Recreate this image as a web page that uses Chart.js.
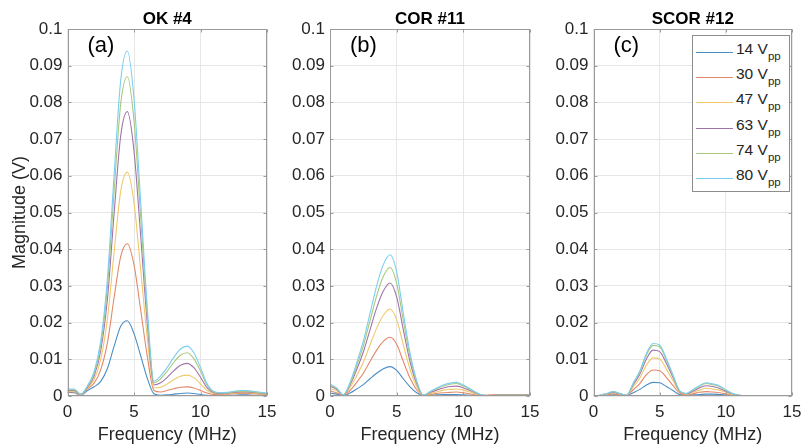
<!DOCTYPE html>
<html><head><meta charset="utf-8">
<script src="https://cdn.jsdelivr.net/npm/chart.js@4.4.1/dist/chart.umd.min.js"></script>
<style>
html,body{margin:0;padding:0;background:#fff;}
#wrap{position:relative;width:804px;height:448px;overflow:hidden;font-family:"Liberation Sans",Arial,sans-serif;}
.pane{position:absolute;top:0;}
#legend{position:absolute;left:692px;top:35px;width:98px;height:157px;border:1px solid #8c8c8c;background:#fff;box-sizing:border-box;}
.row{position:absolute;left:0;width:96px;height:20px;}
.smp{position:absolute;left:3px;top:12px;width:37px;height:0;}
.txt{position:absolute;left:43px;top:0;font-size:15.5px;line-height:18px;color:#262626;white-space:nowrap;}
.txt sub{font-size:11.5px;vertical-align:-6px;line-height:0;color:#262626;}
</style>
</head><body>
<div id="wrap">
  <canvas id="cA" class="pane" width="285" height="448" style="left:0px"></canvas>
  <canvas id="cB" class="pane" width="273" height="448" style="left:275px"></canvas>
  <canvas id="cC" class="pane" width="266" height="448" style="left:538px"></canvas>
  <div id="legend"></div>
</div>
<script>
// ---------- data ----------
const freq = [0,0.5,1,1.5,2,2.5,3,3.5,4,4.5,5,5.5,6,6.5,7,7.5,8,8.5,9,9.5,10,10.5,11,11.5,12,12.5,13,13.5,14,14.5,15];
const voltages = [14,30,47,63,74,80];
const panelTitles = ['OK #4','COR #11','SCOR #12'];
const panelTags = ['(a)','(b)','(c)'];
const yTicks = [0,0.01,0.02,0.03,0.04,0.05,0.06,0.07,0.08,0.09,0.1];
const xTicks = [0,5,10,15];

// OK #4
const ok_14 = [0.001,0.0009,0.0002,0.0015,0.0025,0.004,0.0075,0.0135,0.019,0.0205,0.017,0.011,0.0048,0.0006,0.0002,0.0003,0.0005,0.0007,0.0008,0.0007,0.0004,0.0002,0.0001,0.0001,0.0002,0.0002,0.0003,0.0003,0.0002,0.0002,0.0002];
const ok_30 = [0.0011,0.0011,0.0003,0.002,0.0035,0.0072,0.0145,0.0267,0.038,0.0415,0.0357,0.0235,0.0108,0.0015,0.0011,0.0015,0.002,0.0024,0.0025,0.0022,0.0015,0.0008,0.0004,0.0004,0.0005,0.0006,0.0007,0.0007,0.0006,0.0005,0.0004];
const ok_47 = [0.0013,0.0013,0.0003,0.0022,0.0045,0.01,0.021,0.039,0.0558,0.061,0.0527,0.0345,0.0158,0.0022,0.0024,0.0033,0.0045,0.0054,0.0057,0.005,0.0033,0.0015,0.0007,0.0006,0.0007,0.0008,0.0009,0.0009,0.0008,0.0006,0.0005];
const ok_63 = [0.0015,0.0015,0.0004,0.0024,0.0054,0.0124,0.0264,0.0495,0.0709,0.0775,0.0668,0.0437,0.0198,0.003,0.0036,0.0051,0.0069,0.0084,0.0089,0.0077,0.0051,0.0022,0.0009,0.0007,0.0008,0.001,0.0011,0.0011,0.001,0.0008,0.0006];
const ok_74 = [0.0017,0.0017,0.0004,0.0026,0.0061,0.0139,0.0296,0.0555,0.0796,0.087,0.075,0.049,0.0222,0.0036,0.0047,0.0068,0.0092,0.0111,0.0118,0.0102,0.0068,0.0029,0.0011,0.0008,0.0009,0.0011,0.0013,0.0013,0.0011,0.0009,0.0007];
const ok_80 = [0.0019,0.0019,0.0005,0.0028,0.0066,0.015,0.032,0.06,0.086,0.094,0.081,0.053,0.024,0.004,0.0055,0.0078,0.0106,0.0128,0.0136,0.0118,0.0078,0.0033,0.0012,0.0009,0.001,0.0013,0.0015,0.0015,0.0013,0.001,0.0008];

// COR #11
const cor_14 = [0.0008,0.0005,0.0001,0.0008,0.0019,0.0031,0.0047,0.0062,0.0074,0.008,0.007,0.0047,0.0025,0.0009,0.0001,0.0002,0.0003,0.0004,0.0004,0.0004,0.0003,0.0002,0.0001,0.0001,0.0001,0.0001,0.0001,0.0001,0.0001,0.0001,0.0001];
const cor_30 = [0.0014,0.0009,0.0001,0.0015,0.0037,0.0062,0.0094,0.0125,0.0149,0.016,0.0141,0.0094,0.0049,0.0017,0.0001,0.0004,0.0007,0.0009,0.001,0.0011,0.0009,0.0006,0.0003,0.0002,0.0003,0.0004,0.0004,0.0004,0.0004,0.0004,0.0004];
const cor_47 = [0.002,0.0014,0.0002,0.0023,0.0055,0.0092,0.0139,0.0185,0.022,0.0237,0.0208,0.0139,0.0073,0.0026,0.0001,0.0006,0.0011,0.0016,0.0018,0.0019,0.0016,0.0011,0.0005,0.0001,0.0001,0.0002,0.0002,0.0002,0.0002,0.0002,0.0002];
const cor_63 = [0.0026,0.0018,0.0002,0.003,0.0072,0.012,0.018,0.024,0.0286,0.0308,0.027,0.018,0.0094,0.0034,0.0002,0.0009,0.0016,0.0022,0.0026,0.0027,0.0022,0.0015,0.0007,0.0002,0.0001,0.0002,0.0002,0.0002,0.0002,0.0002,0.0002];
const cor_74 = [0.003,0.002,0.0003,0.0033,0.0082,0.0137,0.0205,0.0273,0.0326,0.035,0.0307,0.0205,0.0107,0.0038,0.0002,0.0011,0.002,0.0027,0.0032,0.0034,0.0027,0.0018,0.0008,0.0002,0.0001,0.0002,0.0002,0.0002,0.0002,0.0002,0.0002];
const cor_80 = [0.0033,0.0022,0.0003,0.0037,0.009,0.015,0.0225,0.03,0.0358,0.0385,0.0338,0.0225,0.0118,0.0042,0.0002,0.0012,0.0022,0.003,0.0035,0.0037,0.003,0.002,0.0009,0.0002,0.0001,0.0002,0.0002,0.0002,0.0002,0.0002,0.0002];

// SCOR #12
const scor_14 = [0,0.0001,0.0002,0.0003,0.0002,0.0001,0.0009,0.0018,0.003,0.0037,0.0036,0.0026,0.0015,0.0004,0.0002,0.0003,0.0004,0.0005,0.0005,0.0004,0.0003,0.0001,0.0001,0,0,0,0,0,0,0,0];
const scor_30 = [0,0.0001,0.0003,0.0006,0.0003,0.0001,0.0017,0.0034,0.0058,0.0071,0.0069,0.0051,0.0029,0.0008,0.0003,0.0006,0.001,0.0012,0.0011,0.0009,0.0006,0.0003,0.0001,0.0001,0.0001,0.0001,0.0001,0.0001,0.0001,0.0001,0.0001];
const scor_47 = [0,0.0001,0.0005,0.0008,0.0005,0.0001,0.0025,0.0049,0.0084,0.0104,0.0101,0.0074,0.0042,0.0011,0.0005,0.001,0.0016,0.0021,0.0019,0.0016,0.001,0.0004,0.0001,0.0001,0.0001,0.0001,0.0001,0.0001,0.0001,0.0001,0.0001];
const scor_63 = [0,0.0002,0.0006,0.001,0.0006,0.0002,0.0031,0.0059,0.0101,0.0125,0.0121,0.0089,0.0051,0.0013,0.0006,0.0013,0.0022,0.0028,0.0026,0.0021,0.0013,0.0006,0.0002,0.0001,0.0001,0.0001,0.0001,0.0001,0.0001,0.0001,0.0001];
const scor_74 = [0,0.0002,0.0007,0.0012,0.0007,0.0002,0.0034,0.0066,0.0112,0.0138,0.0134,0.0098,0.0056,0.0014,0.0007,0.0016,0.0026,0.0034,0.0031,0.0026,0.0016,0.0007,0.0002,0.0001,0.0001,0.0001,0.0001,0.0001,0.0001,0.0001,0.0001];
const scor_80 = [0,0.0002,0.0007,0.0012,0.0007,0.0002,0.0035,0.0068,0.0116,0.0143,0.0139,0.0102,0.0058,0.0015,0.0007,0.0017,0.0028,0.0036,0.0033,0.0028,0.0017,0.0007,0.0002,0.0001,0.0001,0.0001,0.0001,0.0001,0.0001,0.0001,0.0001];

// ---------- styles ----------
const colors = ['#4a8ec6','#e3886a','#f0c86a','#a074ab','#a8c97c','#7ccef0'];
const FONT = '"Liberation Sans", Arial, Helvetica, sans-serif';
const TXT = '#262626';

const framePlugin = {
  id: 'frame',
  afterDatasetsDraw(chart) {
    const {ctx, chartArea: a, scales: {x, y}} = chart;
    ctx.save();
    ctx.strokeStyle = '#9a9a9a';
    ctx.lineWidth = 1;
    const L = Math.round(a.left) + 0.5, R = Math.round(a.right) - 0.5;
    const T = Math.round(a.top) + 0.5, B = Math.round(a.bottom) - 0.5;
    ctx.strokeRect(L, T, R - L, B - T);
    ctx.beginPath();
    xTicks.forEach(v => {
      const px = Math.round(x.getPixelForValue(v)) + 0.5;
      ctx.moveTo(px, B); ctx.lineTo(px, B - 3);
      ctx.moveTo(px, T); ctx.lineTo(px, T + 3);
    });
    yTicks.forEach(v => {
      const py = Math.round(y.getPixelForValue(v)) + 0.5;
      ctx.moveTo(L, py); ctx.lineTo(L + 3, py);
      ctx.moveTo(R, py); ctx.lineTo(R - 3, py);
    });
    ctx.stroke();
    ctx.restore();
  }
};

const tagPlugin = {
  id: 'panelTag',
  afterDraw(chart, args, opts) {
    if (!opts) return;
    const {ctx, chartArea: a} = chart;
    ctx.save();
    ctx.fillStyle = '#000';
    ctx.textBaseline = 'middle';
    ctx.font = 'bold 17px ' + FONT;
    ctx.textAlign = 'center';
    ctx.fillText(opts.title, (a.left + a.right) / 2, 19);
    ctx.font = '22px ' + FONT;
    ctx.textAlign = 'left';
    ctx.fillText(opts.text, a.left + 20, a.top + 17);
    ctx.restore();
  }
};

function makeChart(id, series, idx, yWidth, padRight, showYTitle) {
  const datasets = series.map((s, i) => ({
    label: voltages[i] + ' Vpp',
    data: freq.map((f, k) => ({x: f, y: s[k]})),
    borderColor: colors[i],
    borderWidth: 1.1,
    pointRadius: 0,
    fill: false,
    cubicInterpolationMode: 'monotone',
    order: series.length - i
  }));
  return new Chart(document.getElementById(id), {
    type: 'line',
    data: {datasets},
    plugins: [framePlugin, tagPlugin],
    options: {
      responsive: false,
      animation: false,
      maintainAspectRatio: false,
      layout: {padding: {left: 0, right: padRight, top: 29, bottom: 0}},
      plugins: {
        legend: {display: false},
        tooltip: {enabled: false},
        title: {display: false},
        panelTag: {text: panelTags[idx], title: panelTitles[idx]}
      },
      scales: {
        x: {
          type: 'linear', min: 0, max: 15,
          afterBuildTicks: s => { s.ticks = xTicks.map(v => ({value: v})); },
          ticks: {color: TXT, font: {family: FONT, size: 17}, padding: 6, maxRotation: 0, autoSkip: false},
          grid: {color: '#e6e6e6', drawTicks: false},
          border: {display: false},
          title: {display: true, text: 'Frequency (MHz)', color: TXT,
                  font: {family: FONT, size: 18}, padding: {top: 0, bottom: 2}},
          afterFit: s => { s.height = 52; s.paddingLeft = 0; s.paddingRight = 0; }
        },
        y: {
          type: 'linear', min: 0, max: 0.1,
          afterBuildTicks: s => { s.ticks = yTicks.map(v => ({value: v})); },
          ticks: {color: TXT, font: {family: FONT, size: 17}, padding: 5, autoSkip: false,
                  callback: v => String(+v.toFixed(2))},
          grid: {color: '#e6e6e6', drawTicks: false},
          border: {display: false},
          title: {display: showYTitle, text: 'Magnitude (V)', color: TXT,
                  font: {family: FONT, size: 18}, padding: {top: 9, bottom: 0}},
          afterFit: s => { s.width = yWidth; }
        }
      }
    }
  });
}

makeChart('cA', [ok_14, ok_30, ok_47, ok_63, ok_74, ok_80], 0, 67.5, 18, true);
makeChart('cB', [cor_14, cor_30, cor_47, cor_63, cor_74, cor_80], 1, 55, 8 + 10, false);
makeChart('cC', [scor_14, scor_30, scor_47, scor_63, scor_74, scor_80], 2, 55.5, 12, false);

// ---------- legend (HTML, real text with subscripts) ----------
const lg = document.getElementById('legend');
voltages.forEach((v, i) => {
  const row = document.createElement('div');
  row.className = 'row';
  row.style.top = (4 + i * 25.2) + 'px';
  const smp = document.createElement('span');
  smp.className = 'smp';
  smp.style.borderTop = '1.5px solid ' + colors[i];
  const t = document.createElement('span');
  t.className = 'txt';
  t.innerHTML = v + ' V<sub>pp</sub>';
  row.appendChild(smp); row.appendChild(t);
  lg.appendChild(row);
});
</script>
</body></html>
